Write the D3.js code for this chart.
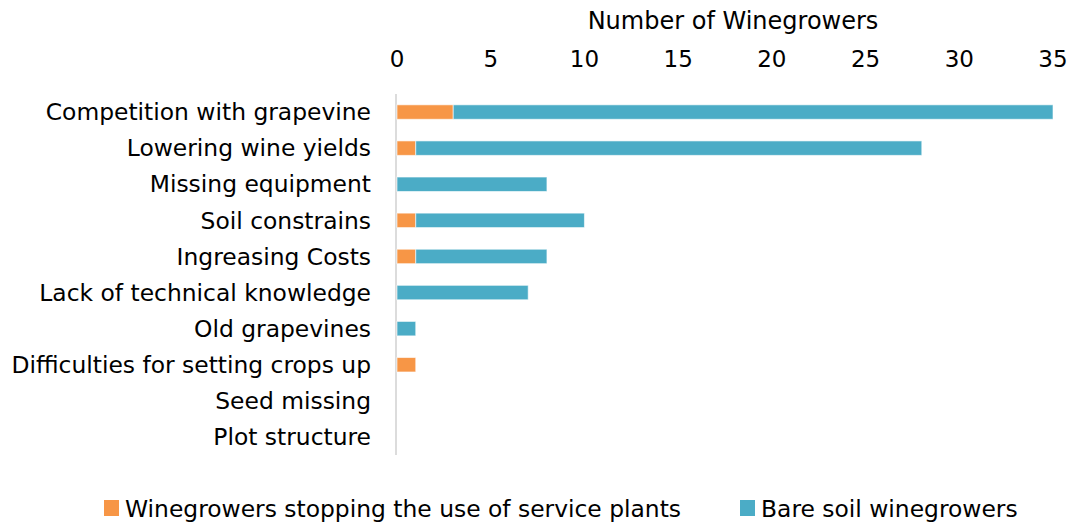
<!DOCTYPE html>
<html>
<head>
<meta charset="utf-8">
<script src="https://cdn.jsdelivr.net/npm/d3@7"></script>
<style>
  body { margin: 0; background: #fff; }
  text { font-family: "DejaVu Sans", sans-serif; fill: #000; }
</style>
</head>
<body>
<svg id="chart" width="1070" height="523"></svg>
<script>
// data
const categories = [
    "Competition with grapevine",
    "Lowering wine yields",
    "Missing equipment",
    "Soil constrains",
    "Ingreasing Costs",
    "Lack of technical knowledge",
    "Old grapevines",
    "Difficulties for setting crops up",
    "Seed missing",
    "Plot structure"
];
const stopping = [3, 1, 0, 1, 1, 0, 0, 1, 0, 0];
const bareSoil = [32, 27, 8, 9, 7, 7, 1, 0, 0, 0];
const seriesNames = ["Winegrowers stopping the use of service plants", "Bare soil winegrowers"];
const colors = ["#F79646", "#4BACC6"];
const xTicks = [0, 5, 10, 15, 20, 25, 30, 35];

const width = 1070, height = 523;
const margin = {left: 397, right: 17, top: 94, bottom: 68};
const fontSize = "23.4px";

const svg = d3.select("#chart");

const x = d3.scaleLinear()
    .domain([0, 35])
    .range([margin.left, width - margin.right]);

const y = d3.scaleBand()
    .domain(categories)
    .range([margin.top, height - margin.bottom])
    .paddingInner(0.6)
    .paddingOuter(0.3);

let rows = categories.map((c, i) => ({name: c, stopping: stopping[i], bare: bareSoil[i]}));
let stacked = d3.stack().keys(["stopping", "bare"])(rows);

// top axis labels
svg.append("g")
    .selectAll("text")
    .data(xTicks)
    .join("text")
    .attr("x", d => x(d))
    .attr("y", 67)
    .attr("text-anchor", "middle")
    .style("font-size", "23px")
    .text(d => d);

// axis title, sits a little right of the plot centre
svg.append("text")
    .attr("x", (x(0) + x(35)) / 2 + 8)
    .attr("y", 29)
    .attr("text-anchor", "middle")
    .style("font-size", "24px")
    .text("Number of Winegrowers");

// vertical axis line
svg.append("line")
    .attr("x1", x(0) - 1).attr("x2", x(0) - 1)
    .attr("y1", margin.top).attr("y2", height - margin.bottom)
    .attr("stroke", "#d0d0d0")
    .attr("stroke-width", 1.5);

svg.append("g")
    .selectAll("g")
    .data(stacked)
    .join("g")
    .attr("fill", (d, i) => colors[i])
    .selectAll("rect")
    .data(d => d.filter(v => v[1] - v[0] > 0))
    .join("rect")
    .attr("x", d => x(d[0]))
    .attr("y", d => y(d.data.name))
    .attr("width", d => x(d[1]) - x(d[0]))
    .attr("height", y.bandwidth())
    .attr("stroke", "#ffffff")
    .attr("stroke-opacity", 0.6)
    .attr("stroke-width", 1);

// category labels
svg.append("g")
    .selectAll("text")
    .data(categories)
    .join("text")
    .attr("x", 371)
    .attr("y", d => y(d) + y.bandwidth() / 2)
    .attr("dy", "0.35em")
    .attr("text-anchor", "end")
    .style("font-size", fontSize)
    .text(d => d);

// legend
const legend = svg.append("g");
const legendX = [104, 740];
seriesNames.forEach((s, i) => {
    legend.append("rect")
        .attr("x", legendX[i])
        .attr("y", 500)
        .attr("width", 15)
        .attr("height", 16)
        .attr("fill", colors[i]);
    legend.append("text")
        .attr("x", legendX[i] + 21)
        .attr("y", 517)
        .style("font-size", fontSize)
        .text(s);
});
</script>
</body>
</html>
